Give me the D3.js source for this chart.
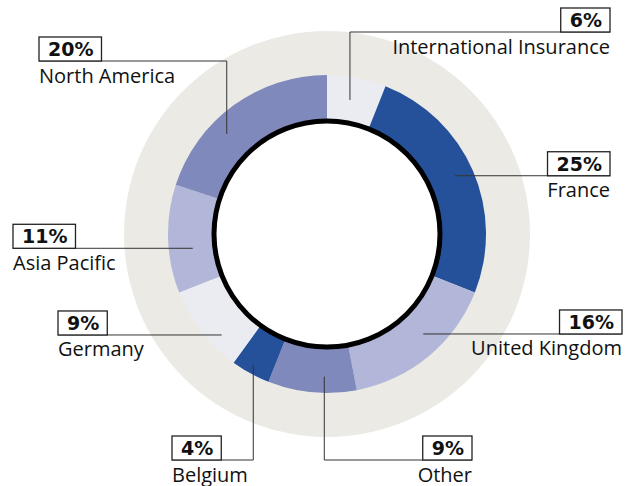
<!DOCTYPE html>
<html>
<head>
<meta charset="utf-8">
<script src="https://cdn.jsdelivr.net/npm/d3@7"></script>
<style>
  body { margin: 0; background: #fff; }
  text { font-family: "Open Sans", sans-serif; fill: #111; }
  .pct { font-family: "DejaVu Sans", sans-serif; font-weight: bold; font-size: 19px; }
  .name { font-size: 20px; }
</style>
</head>
<body>
<div id="chart"></div>
<script>
var categories = ['International Insurance', 'France', 'United Kingdom', 'Other', 'Belgium', 'Germany', 'Asia Pacific', 'North America'];
var shares = [6, 25, 16, 9, 4, 9, 11, 20];
var sliceColors = ['#ebebf2', '#24519a', '#b2b6d8', '#7f89bc', '#24519a', '#ebebf2', '#b2b6d8', '#7f89bc'];

// where each label sits and where its leader touches the ring
// t = fraction along the slice, r = radius of the leader end
var labelLayout = [
  {t: 0.45,  r: 136,   leader: 'v', align: 'right', edge: 610, bottom: 32},
  {t: 0.488, r: 140.6, leader: 'h', align: 'right', edge: 610},
  {t: 0.425, r: 138.8, leader: 'h', align: 'right', edge: 622},
  {t: 0.367, r: 142.7, leader: 'v', align: 'right', edge: 472, bottom: 460},
  {t: 0.54,  r: 150.3, leader: 'v', align: 'left',  edge: 172, bottom: 460},
  {t: 0.315, r: 145.9, leader: 'h', align: 'left',  edge: 58},
  {t: 0.392, r: 135,   leader: 'h', align: 'left',  edge: 13},
  {t: 0.374, r: 141.6, leader: 'v', align: 'left',  edge: 39, bottom: 61}
];

var fullWidth = 634;
var fullHeight = 486;
var cx = 327, cy = 234;
var rBack = 203, rOuter = 159, rInner = 112, rHole = 113;
var boxHeight = 24;

var svg = d3.select('#chart')
  .append('svg')
    .attr('width', fullWidth)
    .attr('height', fullHeight);

var g = svg.append('g')
  .attr('transform', 'translate(' + cx + ',' + cy + ')');

g.append('circle')
  .attr('r', rBack)
  .attr('fill', '#ebeae5');

var pie = d3.pie().sort(null).value(function(d) { return d; });
var arcs = pie(shares);
var arc = d3.arc().innerRadius(rInner).outerRadius(rOuter);

g.selectAll('.slice')
  .data(arcs)
  .enter().append('path')
    .attr('class', 'slice')
    .attr('d', arc)
    .attr('fill', function(d, i) { return sliceColors[i]; });

g.append('circle')
  .attr('r', rHole)
  .attr('fill', '#fff')
  .attr('stroke', '#000')
  .attr('stroke-width', 5);

var labels = svg.append('g');

arcs.forEach(function(d, i) {
  var lay = labelLayout[i];
  var angle = d.startAngle + lay.t * (d.endAngle - d.startAngle);
  var p = d3.pointRadial(angle, lay.r);
  var ax = cx + p[0], ay = cy + p[1];
  var bottom = lay.leader == 'h' ? ay : lay.bottom;

  var lab = labels.append('g');

  var pct = lab.append('text')
    .attr('class', 'pct')
    .attr('text-anchor', 'middle')
    .text(shares[i] + '%');
  var bw = pct.node().getComputedTextLength() + 17;
  var bx = lay.align == 'right' ? lay.edge - bw : lay.edge;
  pct.attr('x', bx + bw / 2 + 0.5).attr('y', bottom - 5);

  lab.insert('rect', 'text')
    .attr('x', bx)
    .attr('y', bottom - boxHeight)
    .attr('width', bw)
    .attr('height', boxHeight)
    .attr('fill', '#fff')
    .attr('stroke', '#222')
    .attr('stroke-width', 1.3);

  var path = lay.leader == 'h'
    ? 'M' + ax + ',' + ay + 'H' + lay.edge
    : 'M' + ax + ',' + ay + 'V' + bottom + 'H' + lay.edge;
  labels.insert('path', 'g')
    .attr('d', path)
    .attr('fill', 'none')
    .attr('stroke', '#333')
    .attr('stroke-width', 1);

  lab.append('text')
    .attr('class', 'name')
    .attr('x', lay.edge)
    .attr('y', bottom + 21.5)
    .attr('text-anchor', lay.align == 'right' ? 'end' : 'start')
    .text(categories[i]);
});
</script>
</body>
</html>
